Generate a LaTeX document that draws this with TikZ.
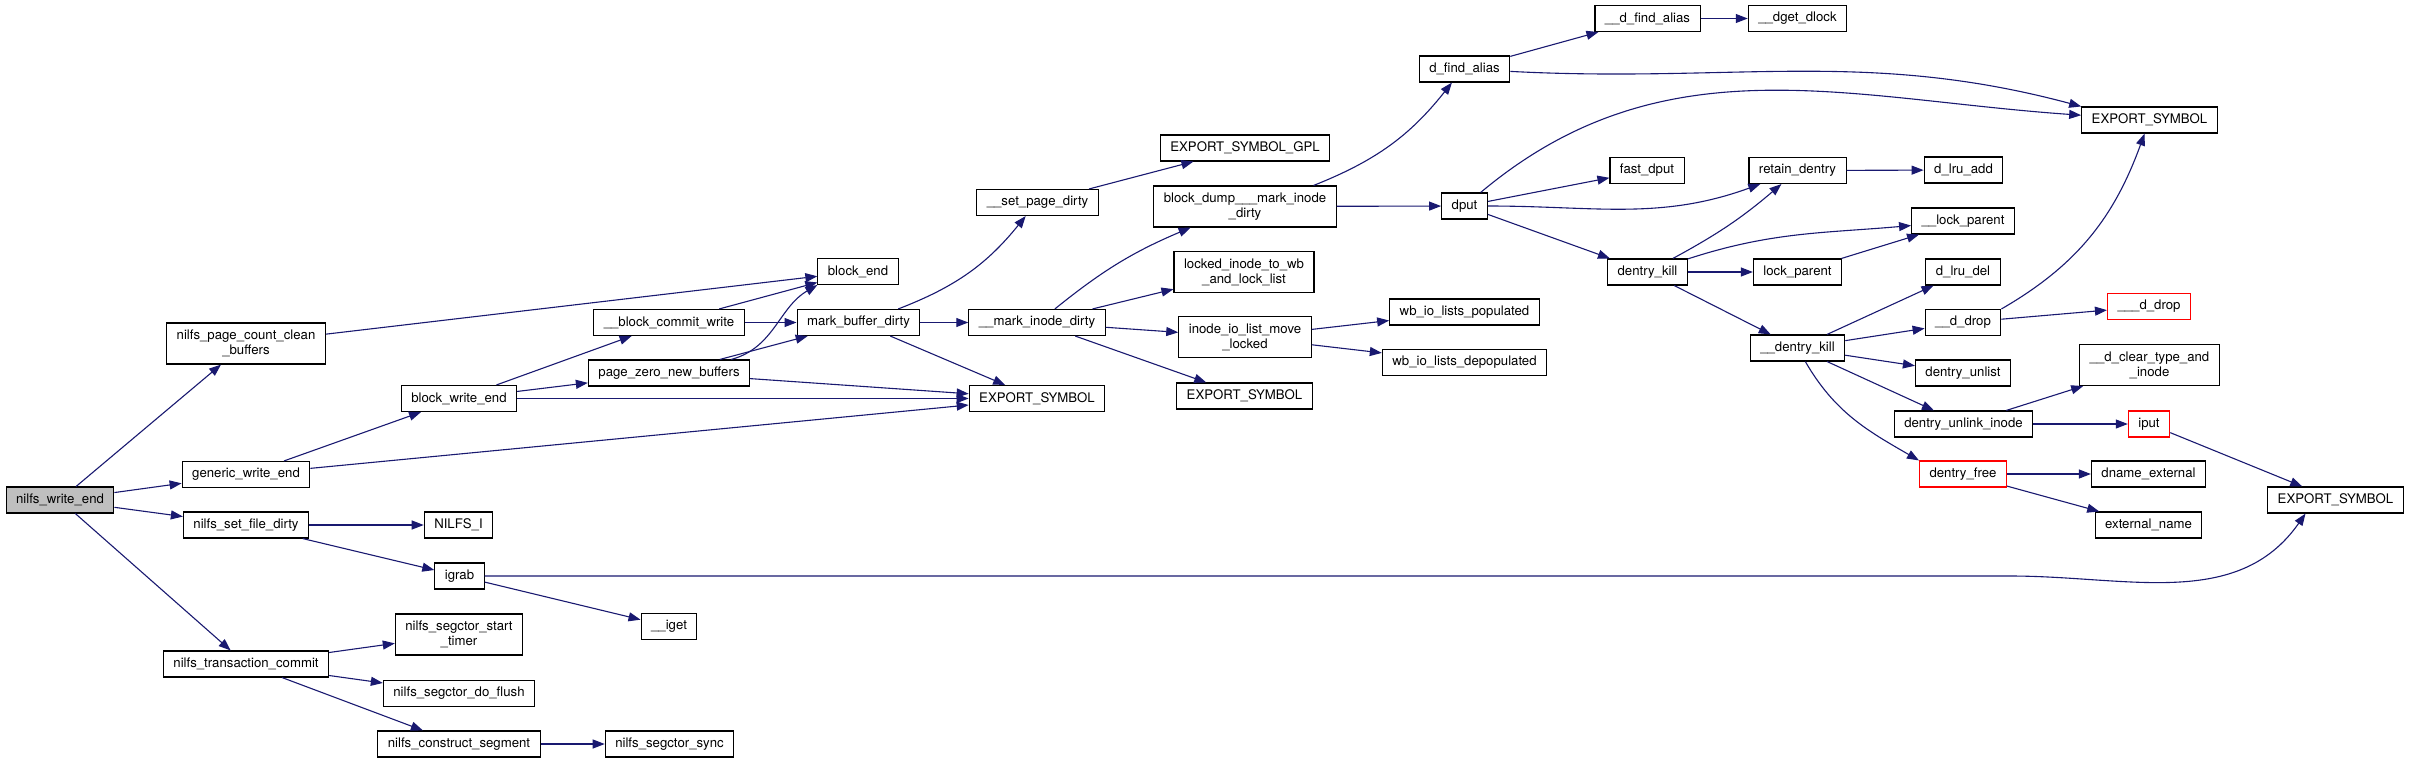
\documentclass[tikz,border=0pt]{standalone}
\usepackage{fontspec}
\setmainfont{TeX Gyre Heros}
\usepackage{tikz}
\usetikzlibrary{arrows.meta}
\definecolor{edgeblue}{HTML}{191970}
\definecolor{rootgray}{HTML}{BFBFBF}

\begin{document}
\begin{tikzpicture}[x=1pt,y=1pt,>={Triangle[length=12pt,width=9pt]}]
      \tikzset{box/.style={draw=black,line width=1.1pt,fill=white,align=center,inner xsep=10pt,inner ysep=3pt,minimum height=26pt,font=\fontsize{13.2}{15}\selectfont},
        two/.style={minimum height=41pt},trunc/.style={draw=red},root/.style={fill=rootgray},
        call/.style={->,edgeblue,line width=1.1pt}}
      \useasboundingbox (0,0) rectangle (2411,-763);
      \node[box,root] (nwe) at (60,-500) {nilfs\_write\_end};
      \node[box,two] (npccb) at (246,-343.5) {nilfs\_page\_count\_clean\\\_buffers};\node[box] (gwe) at (246,-474.5) {generic\_write\_end};\node[box] (nsfd) at (246,-525) {nilfs\_set\_file\_dirty};\node[box] (ntc) at (246,-664) {nilfs\_transaction\_commit};
      \node[box] (bwe) at (459,-398.5) {block\_write\_end};\node[box] (nilfsi) at (458.5,-525) {NILFS\_I};\node[box] (igrab) at (459.5,-576) {igrab};\node[box,two] (nsst) at (459,-634.5) {nilfs\_segctor\_start\\\_timer};\node[box] (nsdf) at (459,-693.5) {nilfs\_segctor\_do\_flush};\node[box] (ncs) at (459,-744) {nilfs\_construct\_segment};
      \node[box] (bcw) at (669,-322.5) {\_\_block\_commit\_write};\node[box] (pznb) at (669,-373) {page\_zero\_new\_buffers};\node[box] (iget) at (669,-626.5) {\_\_iget};\node[box] (nss) at (669.5,-744) {nilfs\_segctor\_sync};
      \node[box] (bend) at (858,-271.5) {block\_end};\node[box] (mbd) at (858.5,-322.5) {mark\_buffer\_dirty};
      \node[box] (spd) at (1037.5,-202.5) {\_\_set\_page\_dirty};\node[box] (mid) at (1037,-322.5) {\_\_mark\_inode\_dirty};\node[box] (es1) at (1037,-398.5) {EXPORT\_SYMBOL};
      \node[box] (esgpl) at (1245,-148) {EXPORT\_SYMBOL\_GPL};\node[box,two] (bdmid) at (1245,-206.5) {block\_dump\_\_\_mark\_inode\\\_dirty};\node[box,two] (litw) at (1244,-272) {locked\_inode\_to\_wb\\\_and\_lock\_list};\node[box,two] (iilm) at (1245,-337) {inode\_io\_list\_move\\\_locked};\node[box] (es2) at (1244.5,-396) {EXPORT\_SYMBOL};
      \node[box] (dfa) at (1464.5,-69) {d\_find\_alias};\node[box] (dput) at (1464.5,-206) {dput};\node[box] (wbpop) at (1464.5,-312) {wb\_io\_lists\_populated};\node[box] (wbdep) at (1464.5,-362.5) {wb\_io\_lists\_depopulated};
      \node[box] (dfa2) at (1647.5,-18.5) {\_\_d\_find\_alias};\node[box] (fdput) at (1647,-170.5) {fast\_dput};\node[box] (dkill) at (1647.5,-272) {dentry\_kill};
      \node[box] (dget) at (1797.5,-18.5) {\_\_dget\_dlock};\node[box] (retain) at (1797.5,-170.5) {retain\_dentry};\node[box] (lockp) at (1797.5,-272) {lock\_parent};\node[box] (dkill2) at (1797.5,-348) {\_\_dentry\_kill};
      \node[box] (dlruadd) at (1963.5,-170) {d\_lru\_add};\node[box] (lockp2) at (1963,-221) {\_\_lock\_parent};\node[box] (dlrudel) at (1963,-272) {d\_lru\_del};\node[box] (ddrop) at (1963,-322.5) {\_\_d\_drop};\node[box] (dunlist) at (1963,-373) {dentry\_unlist};\node[box] (dunlink) at (1963.5,-424) {dentry\_unlink\_inode};\node[box,trunc] (dfree) at (1963,-474) {dentry\_free};
      \node[box] (es3) at (2149.5,-120) {EXPORT\_SYMBOL};\node[box,trunc] (dddrop) at (2149,-306.5) {\_\_\_d\_drop};\node[box,two] (dclear) at (2149.5,-365) {\_\_d\_clear\_type\_and\\\_inode};\node[box,trunc] (iput) at (2149,-424) {iput};\node[box] (dname) at (2148.5,-474) {dname\_external};\node[box] (extn) at (2148.5,-525) {external\_name};
      \node[box] (es4) at (2335.5,-500) {EXPORT\_SYMBOL};
      \coordinate (igrabrun) at (2010,-576);
      \foreach \a/\b in {nwe/npccb,nwe/gwe,nwe/nsfd,nwe/ntc,npccb/bend,gwe/bwe,gwe/es1,bwe/bcw,bwe/pznb,bwe/es1,bcw/bend,bcw/mbd,pznb/mbd,pznb/es1,mbd/mid,mbd/es1,spd/esgpl,mid/litw,mid/iilm,mid/es2,iilm/wbpop,iilm/wbdep,bdmid/dput,dfa/dfa2,dfa2/dget,dput/fdput,dput/dkill,retain/dlruadd,dkill/lockp,dkill/dkill2,lockp/lockp2,dkill2/dlrudel,dkill2/ddrop,dkill2/dunlist,dkill2/dunlink,ddrop/dddrop,dunlink/dclear,dunlink/iput,iput/es4,dfree/dname,dfree/extn,nsfd/nilfsi,nsfd/igrab,igrab/iget,ntc/nsst,ntc/nsdf,ntc/ncs,ncs/nss}{\draw[call] (\a)--(\b);}
      \draw[call] ([xshift=-19pt]pznb.north east) to[out=15,in=210] (bend.south west);
      \draw[call] (mbd) to[bend right=15] (spd);
      \draw[call] (mid) to[bend left=8] (bdmid);
      \draw[call] (bdmid) to[bend right=15] (dfa);
      \draw[call] (dfa) to[out=-3,in=165] (es3.north west);
      \draw[call] (dput) to[out=40,in=176] (es3);
      \draw[call] (dput) to[out=0,in=200] (retain);
      \draw[call] (dkill) to[bend right=6] (retain);
      \draw[call] (dkill) to[out=18,in=185] (lockp2);
      \draw[call] (dkill2) to[out=-60,in=150] (dfree.north west);
      \draw[call] (ddrop.north east) to[out=30,in=250] (es3);
      \draw[call] (igrab) -- (igrabrun) to[out=0,in=235] ([xshift=-30pt]es4.south);
    \end{tikzpicture}
\end{document}
